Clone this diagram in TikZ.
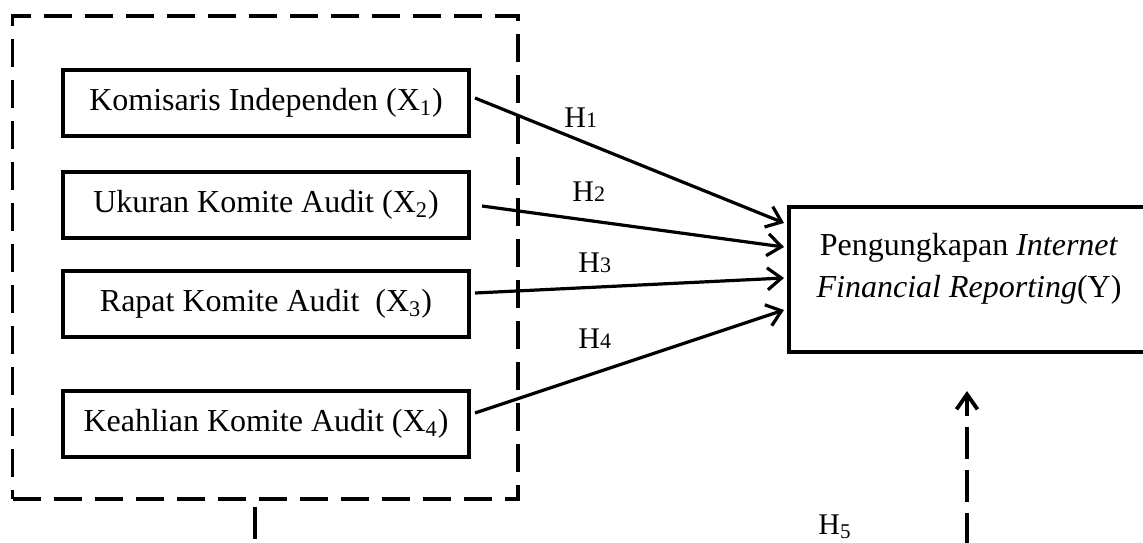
\documentclass[tikz,border=0pt]{standalone}
\usepackage{fontspec}
\setmainfont{Liberation Serif}
\usetikzlibrary{arrows.meta,calc}
\begin{document}
\begin{tikzpicture}[x=0.5pt,y=-0.5pt,
  varbox/.style={draw, line width=2pt, rectangle, minimum width=203pt, minimum height=33pt, inner sep=0pt, font=\fontsize{16}{19}\selectfont},
  ybox/.style={draw, line width=2pt, rectangle, minimum width=180pt, minimum height=72.5pt, inner sep=0pt},
  grpbox/.style={draw, line width=1.75pt, dash pattern=on 14pt off 6.5pt, rectangle, minimum width=252.75pt, minimum height=241.5pt, inner sep=0pt},
  arr/.style={line width=1.6pt, -{Straight Barb[length=7pt,width=11pt]}},
  dasharr/.style={line width=1.9pt, dash pattern=on 16pt off 5.5pt, -{Straight Barb[length=7.5pt,width=10.5pt]}},
  stubline/.style={line width=2pt},
  hlab/.style={anchor=base west, inner sep=0pt, font=\fontsize{15}{17}\selectfont},
  ytext/.style={align=center, anchor=base, inner sep=0pt, font=\fontsize{16}{21}\selectfont}
  ]
\useasboundingbox (0,0) rectangle (1143,542);
\clip (0,0) rectangle (1143,542);
\node[grpbox] (grp) at (265.25,257.5) {};
\node[varbox] (b1) at (266,102.5) {Komisaris Independen (X\textsubscript{1})};
\node[varbox] (b2) at (266,205) {Ukuran Komite Audit (X\textsubscript{2})};
\node[varbox] (b3) at (266,304) {Rapat Komite Audit \ (X\textsubscript{3})};
\node[varbox] (b4) at (266,424) {Keahlian Komite Audit (X\textsubscript{4})};
\node[ybox] (Y) at (969,279.5) {};
\node[ytext] (ytxt) at (969,297) {Pengungkapan \textit{Internet}\\\textit{Financial Reporting}(Y)};
\draw[arr] ($(b1.east)+(4,-4.5)$) -- ($(Y.west)+(-3,-56.5)$);
\draw[arr] ($(b2.east)+(11,1)$) -- ($(Y.west)+(-3,-32.5)$);
\draw[arr] ($(b3.east)+(4,-11)$) -- ($(Y.west)+(-3,-1.5)$);
\draw[arr] ($(b4.east)+(4,-11)$) -- ($(Y.west)+(-3,30.5)$);
\node[hlab] (h1) at (564,127) {H{\fontsize{11}{12}\selectfont 1}};
\node[hlab] (h2) at (572,201) {H{\fontsize{11}{12}\selectfont 2}};
\node[hlab] (h3) at (578,272) {H{\fontsize{11}{12}\selectfont 3}};
\node[hlab] (h4) at (578,348) {H{\fontsize{11}{12}\selectfont 4}};
\node[hlab, font=\fontsize{15}{18}\selectfont] (h5) at (818,534) {H\textsubscript{5}};
\coordinate (h5s) at (967,545);
\draw[dasharr] (h5s) -- ($(Y.south)+(-2,37)$);
\draw[stubline] ($(grp.south)+(-10,6)$) -- ++(0,32);
\end{tikzpicture}
\end{document}
